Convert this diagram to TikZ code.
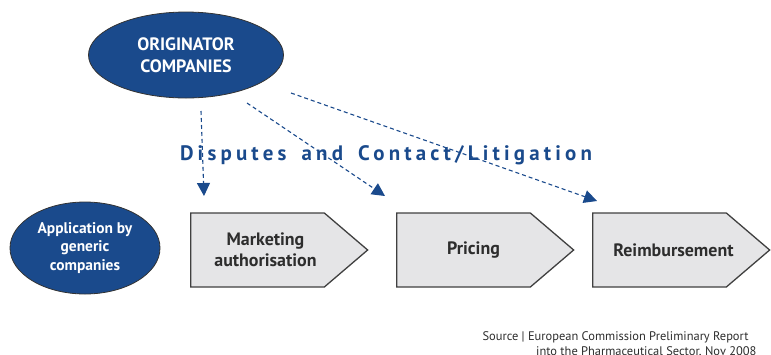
\documentclass[tikz,border=0pt]{standalone}
\usepackage{fontspec}
\setmainfont{PT Sans}
\newfontfamily\spacedfont[LetterSpace=20, WordSpace=1.6]{PT Sans}
\usepackage{tikz}
\usetikzlibrary{shapes.geometric, shapes.symbols, arrows.meta, positioning}
\usepackage{xcolor}
\definecolor{ecblue}{RGB}{26,74,140}
\definecolor{stagegray}{RGB}{229,229,231}
\definecolor{textgray}{RGB}{45,45,45}

\begin{document}
\begin{tikzpicture}[x=1bp, y=-1bp,
    company/.style={ellipse, draw=black!80, line width=0.8bp, fill=ecblue, text=white, align=center, inner sep=0pt},
    stage/.style={signal, signal to=east, signal pointer angle=81, draw=black!75, line width=1.3bp, fill=stagegray, minimum width=177bp, minimum height=74bp, inner sep=0pt, anchor=west},
    stagetext/.style={text=textgray, font=\fontsize{18}{21}\selectfont\bfseries, align=center},
    arrow/.style={-{Triangle[length=13bp, width=13bp]}, ecblue, line width=1.1bp, dash pattern=on 4bp off 3bp}
]
    \useasboundingbox (0,0) rectangle (771,354);
    \clip (0,0) rectangle (771,354);

    % Companies
    \node[company, minimum width=195bp, minimum height=86bp, font=\fontsize{18}{22}\selectfont\bfseries] (orig) at (186,55) {ORIGINATOR\\COMPANIES};
    \node[company, minimum width=150bp, minimum height=92bp, font=\fontsize{15.5}{19}\selectfont\bfseries] (generic) at (85,248) {Application by\\generic\\companies};

    % Stages
    \node[stage, label={[stagetext, xshift=8bp]center:Marketing\\authorisation}] (market) at (190,250) {};
    \node[stage, label={[stagetext, xshift=10bp]center:Pricing}] (pricing) at (396,250) {};
    \node[stage, label={[stagetext, xshift=14bp]center:Reimbursement}] (reimb) at (592,250) {};

    % Title
    \node[ecblue, font=\fontsize{21}{24}\spacedfont\bfseries] (disputes) at (386,155) {Disputes and Contact/Litigation};

    % Arrow ends
    \coordinate (s1) at (201,111);
    \coordinate (e1) at (204,196);
    \coordinate (s2) at (247,103);
    \coordinate (e2) at (385,196);
    \coordinate (s3) at (291,93);
    \coordinate (e3) at (597,201);

    % Dispute flows
    \draw[arrow] (s1) -- (e1);
    \draw[arrow] (s2) -- (e2);
    \draw[arrow] (s3) -- (e3);

    % Source
    \node[anchor=north east, align=right, text=textgray, font=\fontsize{12.5}{15}\selectfont] (source) at (760,328) {Source | European Commission Preliminary Report\hspace*{8bp}\\into the Pharmaceutical Sector, Nov 2008};
\end{tikzpicture}
\end{document}
